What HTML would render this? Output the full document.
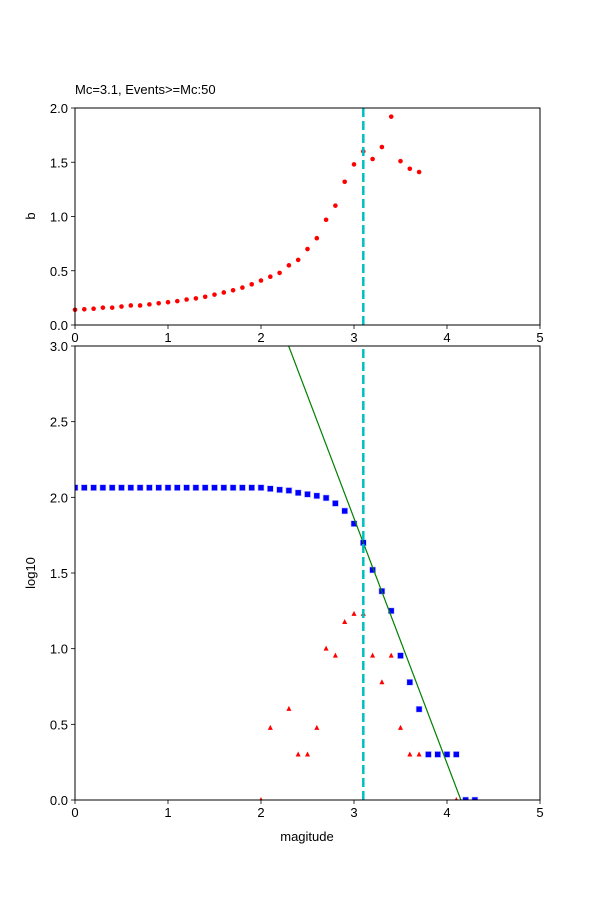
<!DOCTYPE html>
<html><head><meta charset="utf-8"><style>
html,body{margin:0;padding:0;background:#fff;}
svg{display:block;font-family:"Liberation Sans","DejaVu Sans",sans-serif;}
</style></head><body>
<svg id="fig" width="600" height="900" viewBox="0 0 600 900" xmlns="http://www.w3.org/2000/svg">
<text x="75" y="94" font-size="13">Mc=3.1, Events&gt;=Mc:50</text>
<text x="0" y="0" font-size="13" text-anchor="middle" transform="translate(35,216) rotate(-90)">b</text>
<text x="0" y="0" font-size="13" text-anchor="middle" transform="translate(35,573) rotate(-90)">log10</text>
<text x="307" y="841" font-size="13" text-anchor="middle">magitude</text>
<g id="topPanel"></g>
<g id="botPanel"></g>
</svg>
<script>
const bMags = [0,0.1,0.2,0.3,0.4,0.5,0.6,0.7,0.8,0.9,1.0,1.1,1.2,1.3,1.4,1.5,1.6,1.7,1.8,1.9,2.0,2.1,2.2,2.3,2.4,2.5,2.6,2.7,2.8,2.9,3.0,3.1,3.2,3.3,3.4,3.5,3.6,3.7];
const bValues = [0.14,0.145,0.15,0.16,0.16,0.17,0.18,0.18,0.19,0.2,0.21,0.22,0.235,0.245,0.26,0.28,0.3,0.32,0.345,0.375,0.41,0.445,0.48,0.55,0.6,0.7,0.8,0.97,1.1,1.32,1.48,1.6,1.53,1.64,1.92,1.51,1.44,1.41];
const cumMags = [0,0.1,0.2,0.3,0.4,0.5,0.6,0.7,0.8,0.9,1.0,1.1,1.2,1.3,1.4,1.5,1.6,1.7,1.8,1.9,2.0,2.1,2.2,2.3,2.4,2.5,2.6,2.7,2.8,2.9,3.0,3.1,3.2,3.3,3.4,3.5,3.6,3.7,3.8,3.9,4.0,4.1,4.2,4.3];
const cumLog = [2.064,2.064,2.064,2.064,2.064,2.064,2.064,2.064,2.064,2.064,2.064,2.064,2.064,2.064,2.064,2.064,2.064,2.064,2.064,2.064,2.064,2.057,2.05,2.045,2.03,2.02,2.01,1.996,1.96,1.91,1.826,1.70,1.52,1.38,1.25,0.954,0.778,0.6,0.301,0.301,0.301,0.301,0,0];
const ncMags = [2.0,2.1,2.3,2.4,2.5,2.6,2.7,2.8,2.9,3.0,3.1,3.2,3.3,3.4,3.5,3.6,3.7,4.1];
const ncLog = [0,0.477,0.602,0.301,0.301,0.477,1.0,0.954,1.176,1.23,1.23,0.954,0.778,0.954,0.477,0.301,0.301,0];
const fitA = 6.722, fitB = 1.62, mc = 3.1;
const xTicks = ["0","1","2","3","4","5"];
const topYTicks = ["0.0","0.5","1.0","1.5","2.0"];
const botYTicks = ["0.0","0.5","1.0","1.5","2.0","2.5","3.0"];

const NS="http://www.w3.org/2000/svg";
const X0=75,X1=540;
const sx=v=>X0+(v/5)*(X1-X0);
const T0=325,T1=108, ty=v=>T0-(v/2)*(T0-T1);
const B0=800,B1=346, by=v=>B0-(v/3)*(B0-B1);
function mk(p,tag,attrs){const e=document.createElementNS(NS,tag);for(const k in attrs)e.setAttribute(k,attrs[k]);p.appendChild(e);return e;}
const topG=document.getElementById('topPanel'), botG=document.getElementById('botPanel');

function axes(g,y0,y1,yt,yscale,name){
  const clip=mk(g,'clipPath',{id:'c'+name});
  mk(clip,'rect',{x:X0,y:y1,width:X1-X0,height:y0-y1});
  xTicks.forEach(t=>{const x=sx(+t);
    const l=mk(g,'line',{x1:x,x2:x,y1:y0,y2:y0+4,stroke:'#000','stroke-width':0.8});
    
    
    const tx=mk(g,'text',{x:x,y:y0+17,'font-size':13,'text-anchor':'middle'});tx.textContent=t;
    
    });
  yt.forEach(t=>{const y=yscale(+t);
    const l=mk(g,'line',{x1:X0-4,x2:X0,y1:y,y2:y,stroke:'#000','stroke-width':0.8});
    
    
    const tx=mk(g,'text',{x:X0-7,y:y+5,'font-size':13,'text-anchor':'end'});tx.textContent=t;
    
    });
}
function frame(g,y0,y1){const r=mk(g,'rect',{x:X0,y:y1,width:X1-X0,height:y0-y1,fill:'none',stroke:'#000','stroke-width':1});
  
  }

// top panel
mk(topG,'rect',{x:X0,y:T1,width:X1-X0,height:T0-T1,fill:'#fff'});
axes(topG,T0,T1,topYTicks,ty,'t');
bMags.forEach((m,i)=>{const c=mk(topG,'circle',{cx:sx(m),cy:ty(bValues[i]),r:2.3,fill:'#ff0000'});
  
  });
const mt=mk(topG,'line',{x1:sx(mc),x2:sx(mc),y1:T0,y2:T1,stroke:'#00bfbf','stroke-width':2.5,'stroke-dasharray':'9,4'});


frame(topG,T0,T1);

// bottom panel
mk(botG,'rect',{x:X0,y:B1,width:X1-X0,height:B0-B1,fill:'#fff'});
axes(botG,B0,B1,botYTicks,by,'b');
const gclip=mk(botG,'g',{'clip-path':'url(#cb)'});
ncMags.forEach((m,i)=>{const x=sx(m),y=by(ncLog[i]);
  const p=mk(gclip,'polygon',{points:`${x-2.5},${y+2} ${x+2.5},${y+2} ${x},${y-3}`,fill:'#ff0000'});
  
  });
cumMags.forEach((m,i)=>{const r=mk(gclip,'rect',{x:sx(m)-3,y:by(cumLog[i])-3,width:6,height:6,fill:'#0000ff',stroke:'#c8c8ff','stroke-width':0.6});
  
  });
const mA=(fitA-3)/fitB, mB=fitA/fitB;
const fl=mk(gclip,'line',{x1:sx(mA),y1:by(3),x2:sx(mB),y2:by(0),stroke:'#008000','stroke-width':1.2});


const mb=mk(botG,'line',{x1:sx(mc),x2:sx(mc),y1:B0,y2:B1,stroke:'#00bfbf','stroke-width':2.5,'stroke-dasharray':'9,4'});


frame(botG,B0,B1);
</script>
</body></html>
